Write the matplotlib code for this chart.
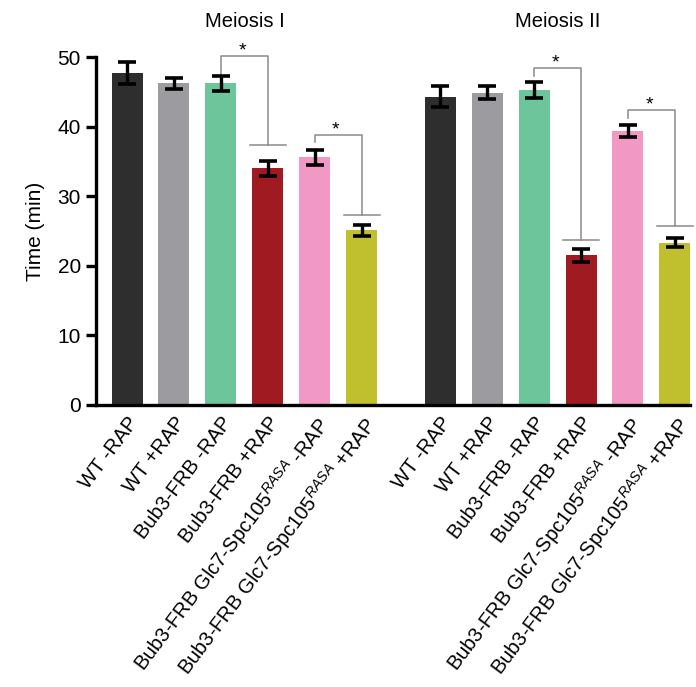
import matplotlib
matplotlib.use("Agg")
import matplotlib.pyplot as plt
import numpy as np

plt.rcParams['font.family'] = ['Liberation Sans', 'DejaVu Sans']
plt.rcParams['mathtext.fontset'] = 'custom'
plt.rcParams['mathtext.rm'] = 'Liberation Sans'
plt.rcParams['mathtext.it'] = 'Liberation Sans:italic'

# data
conditions = ['WT -RAP', 'WT +RAP', 'Bub3-FRB -RAP', 'Bub3-FRB +RAP',
              r'Bub3-FRB Glc7-Spc105$^{\it RASA}$ -RAP',
              r'Bub3-FRB Glc7-Spc105$^{\it RASA}$ +RAP']
meiosis1 = [47.7, 46.2, 46.2, 34.0, 35.6, 25.1]
meiosis1_err = [1.6, 0.85, 1.05, 1.1, 1.1, 0.75]
meiosis2 = [44.3, 44.9, 45.3, 21.5, 39.4, 23.3]
meiosis2_err = [1.5, 0.9, 1.15, 0.95, 0.9, 0.65]
colors = ['#2e2e2e', '#9c9ba0', '#6dc59b', '#a01a22', '#f199c4', '#c0bf2e']
group_titles = ['Meiosis I', 'Meiosis II']

# significance brackets: (left bar, right bar, top y, left end y, right end y)
brackets = [(2, 3, 50.1, 46.8, 37.3), (4, 5, 38.8, 37.8, 27.3),
            (8, 9, 48.4, 47.3, 23.7), (10, 11, 42.4, 41.3, 25.7)]

fig = plt.figure(figsize=(6.96, 6.87), dpi=100)
ax = fig.add_axes([0.138, 0.4105, 0.854, 0.5065])

x1 = np.arange(6)
x2 = np.arange(6) + 6.67
xs = np.concatenate([x1, x2])
vals = meiosis1 + meiosis2
errs = meiosis1_err + meiosis2_err

ax.bar(xs, vals, width=0.66, color=colors * 2, edgecolor='none', zorder=2)
ax.errorbar(xs, vals, yerr=errs, fmt='none', ecolor='black', elinewidth=2.4,
            capsize=6.5, capthick=2.6, zorder=3)

for l, r, top, ly, ry in brackets:
    xl, xr = xs[l], xs[r]
    ax.plot([xl, xl, xr, xr], [ly, top, top, ry], color='#8a8a8a', lw=1.1,
            clip_on=False, zorder=1)
    ax.plot([xr - 0.38, xr + 0.38], [ry, ry], color='#8a8a8a', lw=1.1,
            clip_on=False, zorder=1)
    ax.text((xl + xr) / 2 - 0.05, top - 0.5, '*', ha='center', va='bottom',
            fontsize=14)

for xg, t in zip([x1.mean(), x2.mean()], group_titles):
    ax.text(xg, 53.7, t, ha='center', va='bottom', fontsize=14.5)

ax.set_xlim(-0.66, 12.0)
ax.set_ylim(0, 50)
ax.set_yticks([0, 10, 20, 30, 40, 50])
ax.set_xticks(xs)
ax.set_xticklabels(conditions * 2, rotation=53, ha='right',
                   rotation_mode='anchor', fontsize=14.5)
ax.set_ylabel('Time (min)', fontsize=15, labelpad=9)

for s in ['top', 'right']:
    ax.spines[s].set_visible(False)
for s in ['left', 'bottom']:
    ax.spines[s].set_linewidth(2.4)
ax.tick_params(axis='y', length=7, width=2.4, labelsize=15, pad=4)
ax.tick_params(axis='x', length=0, pad=6)

fig.savefig('out.png', dpi=100)
